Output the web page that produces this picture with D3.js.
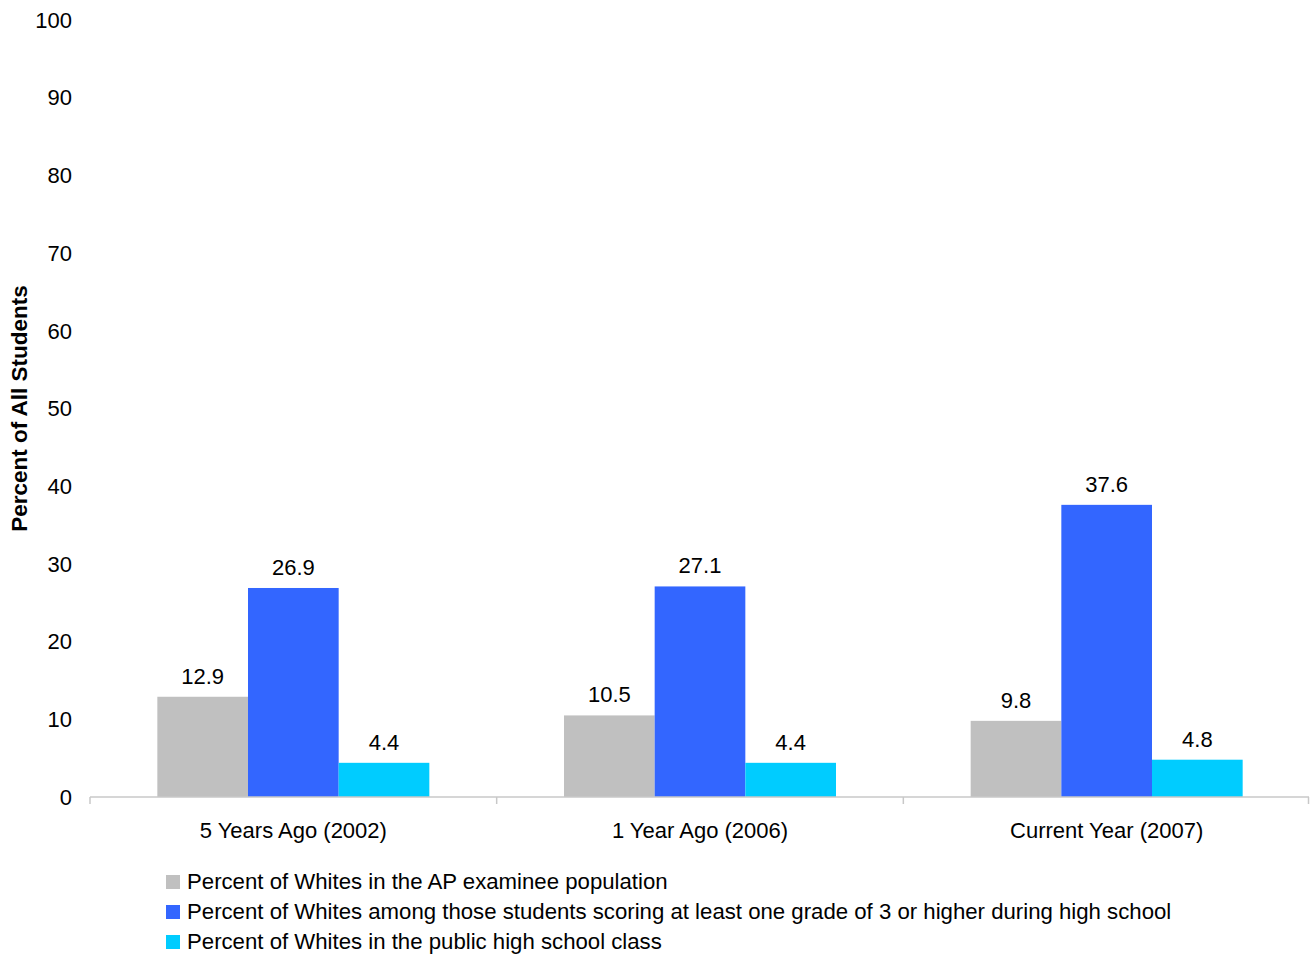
<!DOCTYPE html>
<html>
<head>
<meta charset="utf-8">
<script src="https://cdn.jsdelivr.net/npm/d3@7"></script>
<style>
  body { margin: 0; background: #fff; }
  text { font-family: "Liberation Sans", Arial, sans-serif; fill: #000; }
</style>
</head>
<body>
<script>
// data
var categories = ['5 Years Ago (2002)', '1 Year Ago (2006)', 'Current Year (2007)'];
var seriesNames = [
  'Percent of Whites in the AP examinee population',
  'Percent of Whites among those students scoring at least one grade of 3 or higher during high school',
  'Percent of Whites in the public high school class'
];
var apExaminees = [12.9, 10.5, 9.8];
var scoring3Plus = [26.9, 27.1, 37.6];
var publicClass = [4.4, 4.4, 4.8];
var yTicks = [0, 10, 20, 30, 40, 50, 60, 70, 80, 90, 100];

var colors = ['#c0c0c0', '#3366ff', '#00ccff'];
var allSeries = [apExaminees, scoring3Plus, publicClass];

var width = 1310, height = 954;
var svg = d3.select('body').append('svg')
            .attr('width', width)
            .attr('height', height);

var x0 = d3.scaleBand().domain(categories).range([90, 1310]);
var barsW = 272;
var x1 = d3.scaleBand().domain(d3.range(3))
           .range([(x0.bandwidth() - barsW) / 2, (x0.bandwidth() + barsW) / 2]);
var y = d3.scaleLinear().domain([0, 100]).range([797, 20]);

// y tick labels (no axis line)
svg.selectAll('.ylab').data(yTicks).enter().append('text')
   .attr('x', 72)
   .attr('y', function(d) { return y(d); })
   .attr('dy', '0.35em')
   .attr('text-anchor', 'end')
   .style('font-size', '22px')
   .text(function(d) { return d; });

// axis title
svg.append('text')
   .attr('transform', 'translate(27,' + y(50) + ') rotate(-90)')
   .attr('text-anchor', 'middle')
   .style('font-size', '22.5px')
   .style('font-weight', 'bold')
   .text('Percent of All Students');

// bars
var groups = svg.selectAll('.grp').data(categories).enter().append('g')
                .attr('transform', function(d) { return 'translate(' + x0(d) + ',0)'; });

groups.each(function(cat, ci) {
  var g = d3.select(this);
  allSeries.forEach(function(vals, si) {
    g.append('rect')
     .attr('x', x1(si))
     .attr('y', y(vals[ci]))
     .attr('width', x1.bandwidth())
     .attr('height', y(0) - y(vals[ci]))
     .attr('fill', colors[si]);
    g.append('text')
     .attr('x', x1(si) + x1.bandwidth() / 2)
     .attr('y', y(vals[ci]) - 13)
     .attr('text-anchor', 'middle')
     .style('font-size', '22px')
     .text(vals[ci]);
  });
});

// x axis
var ax = svg.append('g').attr('transform', 'translate(0,' + y(0) + ')');
ax.append('line').attr('x1', 90).attr('x2', 1309).attr('stroke', '#c8c8c8').attr('stroke-width', 1.5);
var edges = categories.map(function(c) { return x0(c); }).concat([1308.5]);
ax.selectAll('.tk').data(edges).enter().append('line')
  .attr('x1', function(d) { return d; }).attr('x2', function(d) { return d; })
  .attr('y1', 0).attr('y2', 7)
  .attr('stroke', '#c8c8c8').attr('stroke-width', 1.5);
ax.selectAll('.xl').data(categories).enter().append('text')
  .attr('x', function(d) { return x0(d) + x0.bandwidth() / 2; })
  .attr('y', 41)
  .attr('text-anchor', 'middle')
  .style('font-size', '22px')
  .text(function(d) { return d; });

// legend
var leg = svg.selectAll('.leg').data(seriesNames).enter().append('g')
             .attr('transform', function(d, i) { return 'translate(166,' + (882 + i * 30) + ')'; });
leg.append('rect').attr('x', 0).attr('y', -7).attr('width', 14).attr('height', 14)
   .attr('fill', function(d, i) { return colors[i]; });
leg.append('text').attr('x', 21).attr('dy', '0.33em')
   .style('font-size', '22.2px')
   .text(function(d) { return d; });
</script>
</body>
</html>
